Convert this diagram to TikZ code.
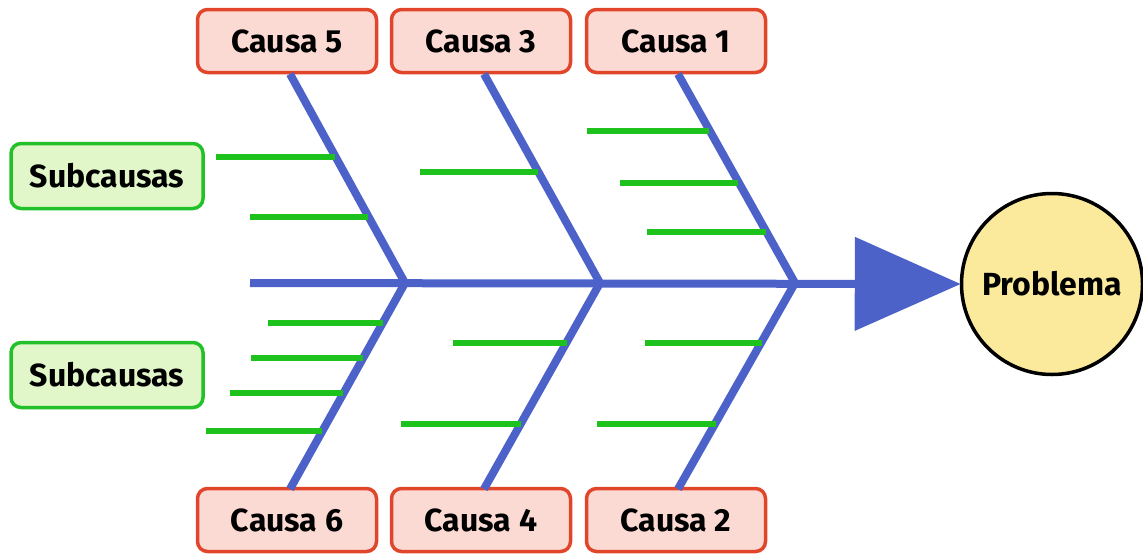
\documentclass[tikz,border=0pt]{standalone}
\usepackage{fontspec}
\setmainfont{Fira Sans}
\usetikzlibrary{arrows.meta}
\definecolor{causefill}{HTML}{FCDAD4}
\definecolor{causedraw}{HTML}{E2462A}
\definecolor{subfill}{HTML}{E2F7C9}
\definecolor{subdraw}{HTML}{22C12A}
\definecolor{probfill}{HTML}{FBEA9C}
\definecolor{bone}{HTML}{4C62C9}
\definecolor{twig}{HTML}{1DC21D}
\tikzset{
  causebox/.style={draw=causedraw, fill=causefill, line width=3.5pt, rounded corners=10pt,
    minimum width=179pt, minimum height=63pt, inner sep=0pt, font=\fontsize{32}{36}\selectfont\bfseries},
  subbox/.style={draw=subdraw, fill=subfill, line width=3.5pt, rounded corners=10pt,
    minimum width=192pt, minimum height=65pt, inner sep=0pt, font=\fontsize{32}{36}\selectfont\bfseries},
  probnode/.style={circle, draw=black, fill=probfill, line width=3.5pt, minimum size=181pt,
    inner sep=0pt, font=\fontsize{32}{36}\selectfont\bfseries},
  bonestyle/.style={draw=bone, line width=8pt},
  twigstyle/.style={draw=twig, line width=5.5pt},
}
\begin{document}
\begin{tikzpicture}[x=1pt,y=-1pt]
\useasboundingbox (0,0) rectangle (1143,555);
% nodes
\node[causebox] (c5) at (287,41) {Causa 5};
\node[causebox] (c3) at (481,41) {Causa 3};
\node[causebox] (c1) at (676,41) {Causa 1};
\node[causebox] (c6) at (287,520) {Causa 6};
\node[causebox] (c4) at (481,520) {Causa 4};
\node[causebox] (c2) at (676,520) {Causa 2};
\node[subbox] (s1) at (107,176) {Subcausas};
\node[subbox] (s2) at (107,375) {Subcausas};
\node[probnode] (p) at (1052,284) {Problema};
% junctions
\coordinate (tail) at (250,283);
\coordinate (j1) at (405,283);
\coordinate (j2) at (600,283);
\coordinate (j3) at (795,283);
% spine
\draw[bonestyle, -{Triangle[width=92pt,length=106pt]}, shorten >=-1pt] (tail) -- (p.west);
% bones
\draw[bonestyle] (290,74) -- (j1) -- (290,489);
\draw[bonestyle] (484,74) -- (j2) -- (484,489);
\draw[bonestyle] (678,74) -- (j3) -- (678,489);
% twigs cause 5
\draw[twigstyle] (216,157) -- (335,157);
\draw[twigstyle] (250,217) -- (368,217);
% cause 3
\draw[twigstyle] (420,172) -- (538,172);
% cause 1
\draw[twigstyle] (587,131) -- (709,131);
\draw[twigstyle] (620,183) -- (738,183);
\draw[twigstyle] (647,232) -- (766,232);
% cause 6
\draw[twigstyle] (268,323) -- (383,323);
\draw[twigstyle] (251,358) -- (363,358);
\draw[twigstyle] (230,393) -- (343,393);
\draw[twigstyle] (206,431) -- (322,431);
% cause 4
\draw[twigstyle] (453,343) -- (567,343);
\draw[twigstyle] (401,424) -- (521,424);
% cause 2
\draw[twigstyle] (645,343) -- (762,343);
\draw[twigstyle] (597,424) -- (716,424);
\end{tikzpicture}
\end{document}
